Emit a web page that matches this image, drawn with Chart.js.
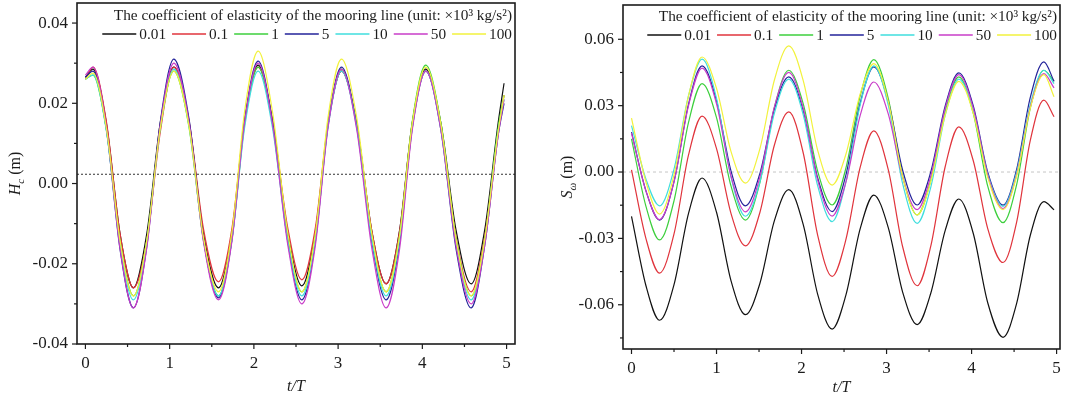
<!DOCTYPE html>
<html>
<head>
<meta charset="utf-8">
<script src="https://cdn.jsdelivr.net/npm/chart.js@4.4.1/dist/chart.umd.min.js"></script>
<style>
  html, body { margin: 0; padding: 0; background: #fff; }
  #wrap { position: relative; width: 1089px; height: 401px; overflow: hidden; }
  canvas { position: absolute; top: 0; }
  #hc { left: 0; }
  #sw { left: 545px; }
</style>
</head>
<body>
<div id="wrap">
  <canvas id="hc" width="545" height="401"></canvas>
  <canvas id="sw" width="544" height="401"></canvas>
</div>
<script>
// mooring line stiffness, x10^3 kg/s^2
const stiffness = ['0.01', '0.1', '1', '5', '10', '50', '100'];
const lineColors = ['#111111', '#e0343c', '#3ccf3c', '#23239a', '#3fdede', '#c93dc9', '#f2f23c'];
const legendTitle = 'The coefficient of elasticity of the mooring line (unit: \u00d710\u00b3 kg/s\u00b2)';

const tTicks = [0, 1, 2, 3, 4, 5];
const tMinor = [0.5, 1.5, 2.5, 3.5, 4.5];

// left panel: H_c (m)
const hcTime = [0, 0.09, 0.25, 0.41, 0.57, 0.73, 0.89, 1.05, 1.23, 1.40, 1.58, 1.74, 1.89, 2.05, 2.22, 2.40,
  2.57, 2.73, 2.88, 3.04, 3.22, 3.40, 3.57, 3.73, 3.88, 4.04, 4.22, 4.40, 4.58, 4.74, 4.90, 4.97];
const hc001 = [0.0265, 0.0285, 0.0149, -0.0124, -0.026, -0.0123, 0.0153, 0.029, 0.0153, -0.0123, -0.026, -0.0121, 0.0156, 0.0295, 0.0158, -0.0118,
  -0.0255, -0.0121, 0.0146, 0.028, 0.0148, -0.0118, -0.025, -0.0116, 0.0151, 0.0285, 0.0151, -0.0116, -0.025, -0.0116, 0.0151, 0.025];
const hc01 = [0.026, 0.029, 0.0153, -0.0123, -0.026, -0.014, 0.013, 0.029, 0.0156, -0.0111, -0.0245, -0.0111, 0.0156, 0.029, 0.0158, -0.0108,
  -0.024, -0.011, 0.015, 0.028, 0.0148, -0.0118, -0.025, -0.0118, 0.0148, 0.028, 0.0143, -0.0133, -0.027, -0.0133, 0.013, 0.022];
const hc1 = [0.026, 0.027, 0.0133, -0.0143, -0.028, -0.014, 0.014, 0.028, 0.014, -0.014, -0.028, -0.0138, 0.0148, 0.029, 0.015, -0.013,
  -0.027, -0.0131, 0.0146, 0.0285, 0.0146, -0.0131, -0.027, -0.0129, 0.0154, 0.0295, 0.0151, -0.0136, -0.028, -0.014, 0.014, 0.022];
const hc5 = [0.0265, 0.028, 0.0133, -0.0163, -0.031, -0.0155, 0.0155, 0.031, 0.0161, -0.0136, -0.0285, -0.0138, 0.0158, 0.0305, 0.0156, -0.0141,
  -0.029, -0.0145, 0.0145, 0.029, 0.0145, -0.0145, -0.029, -0.0148, 0.0138, 0.028, 0.0133, -0.0163, -0.031, -0.0155, 0.012, 0.020];
const hc10 = [0.026, 0.027, 0.013, -0.015, -0.029, -0.0146, 0.0141, 0.0285, 0.0144, -0.0139, -0.028, -0.014, 0.014, 0.028, 0.014, -0.014,
  -0.028, -0.014, 0.014, 0.028, 0.014, -0.014, -0.028, -0.014, 0.014, 0.028, 0.0138, -0.0148, -0.029, -0.0148, 0.013, 0.021];
const hc50 = [0.027, 0.029, 0.014, -0.016, -0.031, -0.0158, 0.0148, 0.030, 0.0153, -0.0143, -0.029, -0.0143, 0.0153, 0.030, 0.015, -0.015,
  -0.030, -0.0154, 0.0139, 0.0285, 0.0136, -0.0161, -0.031, -0.0163, 0.0133, 0.028, 0.0135, -0.0155, -0.030, -0.0155, 0.012, 0.021];
const hc100 = [0.026, 0.0275, 0.0136, -0.0141, -0.028, -0.014, 0.014, 0.028, 0.0143, -0.0133, -0.027, -0.012, 0.018, 0.033, 0.018, -0.012,
  -0.027, -0.0125, 0.0165, 0.031, 0.0165, -0.0125, -0.027, -0.013, 0.015, 0.029, 0.0148, -0.0138, -0.028, -0.014, 0.013, 0.022];
const hcLevel = 0.0023;   // dotted reference line
const hcTicks = [-0.04, -0.02, 0, 0.02, 0.04];
const hcMinor = [-0.03, -0.01, 0.01, 0.03];

// right panel: S_w (m)
const swTime = [0, 0.17, 0.33, 0.50, 0.67, 0.83, 1.00, 1.17, 1.34, 1.51, 1.68, 1.85, 2.02, 2.19, 2.36, 2.52,
  2.69, 2.85, 3.02, 3.19, 3.36, 3.52, 3.69, 3.85, 4.02, 4.19, 4.37, 4.53, 4.69, 4.85, 4.97];
const sw001 = [-0.020, -0.0514, -0.067, -0.0509, -0.0188, -0.0027, -0.0182, -0.0491, -0.0645, -0.0504, -0.0221, -0.008, -0.0238, -0.0553, -0.071, -0.0559,
  -0.0256, -0.0104, -0.0251, -0.0544, -0.069, -0.0548, -0.0264, -0.0122, -0.0278, -0.0591, -0.0747, -0.0594, -0.0287, -0.0134, -0.0171];
const sw01 = [0.001, -0.0301, -0.0457, -0.0280, 0.0076, 0.0253, 0.0106, -0.0187, -0.0334, -0.0183, 0.0121, 0.0272, 0.0086, -0.0286, -0.0472, -0.0308,
  0.0022, 0.0186, 0.0011, -0.0339, -0.0514, -0.0335, 0.0025, 0.0204, 0.0051, -0.0256, -0.0409, -0.0226, 0.0142, 0.0325, 0.025];
const sw1 = [0.015, -0.0155, -0.0307, -0.0130, 0.0223, 0.040, 0.0246, -0.0063, -0.0217, -0.0048, 0.0291, 0.046, 0.0308, 0.0003, -0.0149, 0.0015,
  0.0344, 0.0508, 0.0333, -0.0019, -0.0194, -0.0038, 0.0274, 0.043, 0.0265, -0.0064, -0.0229, -0.0057, 0.0288, 0.046, 0.041];
const sw5 = [0.018, -0.0085, -0.0217, -0.0043, 0.0306, 0.048, 0.0322, 0.0005, -0.0153, -0.0007, 0.0284, 0.043, 0.0278, -0.0027, -0.0179, -0.0016,
  0.0312, 0.0475, 0.0319, 0.0007, -0.0149, 0.0000, 0.0299, 0.0448, 0.0299, -0.0001, -0.015, 0.0012, 0.0336, 0.0498, 0.041];
const sw10 = [0.021, -0.0032, -0.0153, 0.0013, 0.0344, 0.051, 0.0333, -0.0023, -0.020, -0.0045, 0.0265, 0.042, 0.0259, -0.0063, -0.0224, -0.0048,
  0.0304, 0.048, 0.0302, -0.0054, -0.0232, -0.0069, 0.0257, 0.042, 0.0276, -0.0011, -0.0155, -0.0001, 0.0306, 0.046, 0.040];
const sw50 = [0.0176, -0.0085, -0.0215, -0.0044, 0.0299, 0.047, 0.0308, -0.0018, -0.018, -0.0023, 0.0293, 0.045, 0.0288, -0.0037, -0.0199, -0.0048,
  0.0256, 0.0407, 0.0263, -0.0026, -0.017, -0.0018, 0.0288, 0.044, 0.0289, -0.0014, -0.0165, -0.0013, 0.0293, 0.0445, 0.038];
const sw100 = [0.0244, -0.0045, -0.019, -0.0013, 0.0343, 0.052, 0.0378, 0.0093, -0.005, 0.0105, 0.0415, 0.057, 0.0413, 0.0098, -0.0059, 0.0078,
  0.0353, 0.049, 0.0319, -0.0023, -0.0194, -0.0043, 0.0259, 0.041, 0.0265, -0.0025, -0.017, -0.0018, 0.0288, 0.044, 0.034];
const swLevel = 0;        // dashed zero line
const swTicks = [-0.06, -0.03, 0, 0.03, 0.06];
const swMinor = [-0.075, -0.045, -0.015, 0.015, 0.045];

const serif = '"Liberation Serif", "Times New Roman", serif';
const ink = '#1c1c1c';

function series(time, vals, i) {
  return {
    label: stiffness[i],
    data: time.map((t, k) => ({ x: t, y: vals[k] })),
    borderColor: lineColors[i],
    borderWidth: 1.2,
    pointRadius: 0,
    fill: false,
    cubicInterpolationMode: 'monotone',
    order: 10 - i
  };
}

function seg(ctx, x1, y1, x2, y2) {
  ctx.beginPath(); ctx.moveTo(x1, y1); ctx.lineTo(x2, y2); ctx.stroke();
}

const panel = {
  id: 'panel',
  beforeDatasetsDraw(chart, args, o) {
    const { ctx, chartArea: a, scales: { y } } = chart;
    const py = y.getPixelForValue(o.level);
    ctx.save();
    ctx.strokeStyle = o.levelColor; ctx.lineWidth = 1.2; ctx.setLineDash(o.levelDash);
    seg(ctx, a.left, py, a.right, py);
    ctx.restore();
  },
  afterDraw(chart, args, o) {
    const { ctx, chartArea: a, scales: { x, y } } = chart;
    ctx.save();
    ctx.strokeStyle = ink; ctx.lineWidth = 1.6;
    ctx.strokeRect(a.left, a.top, a.right - a.left, a.bottom - a.top);
    ctx.lineWidth = 1.2;
    tTicks.forEach(v => { const p = x.getPixelForValue(v); seg(ctx, p, a.bottom, p, a.bottom + 5); });
    tMinor.forEach(v => { const p = x.getPixelForValue(v); seg(ctx, p, a.bottom, p, a.bottom + 3); });
    o.yMajor.forEach(v => { const p = y.getPixelForValue(v); seg(ctx, a.left - 5, p, a.left, p); });
    o.yMinor.forEach(v => { const p = y.getPixelForValue(v); seg(ctx, a.left - 3, p, a.left, p); });

    // legend inside the frame, right aligned
    ctx.fillStyle = ink;
    ctx.textBaseline = 'middle';
    ctx.font = '15.3px ' + serif;
    ctx.textAlign = 'right';
    ctx.fillText(legendTitle, a.right - 3, o.titleY);
    ctx.textAlign = 'left';
    const sets = chart.data.datasets;
    const L = 34, g1 = 3, g2 = 6;
    const w = sets.map(d => ctx.measureText(d.label).width);
    let total = g2 * (sets.length - 1);
    w.forEach(v => { total += L + g1 + v; });
    let px = a.right - 3 - total;
    ctx.lineWidth = 1.4;
    sets.forEach((d, i) => {
      ctx.strokeStyle = d.borderColor;
      seg(ctx, px, o.rowY, px + L, o.rowY);
      px += L + g1;
      ctx.fillText(d.label, px, o.rowY + 1);
      px += w[i] + g2;
    });

    // y-axis title with subscript
    ctx.translate(o.yTitleX, (a.top + a.bottom) / 2);
    ctx.rotate(-Math.PI / 2);
    ctx.textBaseline = 'alphabetic';
    const fMain = 'italic 16px ' + serif, fSub = 'italic 11px ' + serif, fUnit = '16px ' + serif;
    ctx.font = fMain; const w1 = ctx.measureText(o.yVar).width;
    ctx.font = fSub; const w2 = ctx.measureText(o.ySub).width;
    ctx.font = fUnit; const w3 = ctx.measureText(' (m)').width;
    let tx = -(w1 + w2 + w3) / 2;
    ctx.font = fMain; ctx.fillText(o.yVar, tx, 0); tx += w1;
    ctx.font = fSub; ctx.fillText(o.ySub, tx, 4); tx += w2;
    ctx.font = fUnit; ctx.fillText(' (m)', tx, 0);
    ctx.restore();
  }
};

function makeChart(id, datasets, cfg) {
  return new Chart(document.getElementById(id), {
    type: 'line',
    data: { datasets },
    options: {
      responsive: false,
      animation: false,
      events: [],
      layout: { padding: { top: cfg.padTop, right: cfg.padRight, left: 0, bottom: 0 } },
      plugins: { legend: { display: false }, tooltip: { enabled: false }, panel: cfg },
      scales: {
        x: {
          type: 'linear', min: cfg.xMin, max: cfg.xMax,
          afterBuildTicks: s => { s.ticks = tTicks.map(v => ({ value: v })); },
          afterFit: s => { s.height = cfg.xHeight; s.paddingLeft = 0; s.paddingRight = 0; },
          grid: { display: false, drawTicks: false },
          border: { display: false },
          ticks: { padding: 9, color: ink, font: { family: serif, size: 17 }, callback: v => String(v) },
          title: { display: true, text: 't/T', color: ink, font: { family: serif, size: 16, style: 'italic' }, padding: { top: 0, bottom: cfg.titlePad } }
        },
        y: {
          type: 'linear', min: cfg.yMin, max: cfg.yMax,
          afterBuildTicks: s => { s.ticks = cfg.yMajor.map(v => ({ value: v })); },
          afterFit: s => { s.width = cfg.yWidth; s.paddingTop = 0; s.paddingBottom = 0; },
          grid: { display: false, drawTicks: false },
          border: { display: false },
          ticks: { padding: 9, color: ink, font: { family: serif, size: 17 }, callback: v => v.toFixed(2) }
        }
      }
    },
    plugins: [panel]
  });
}

const hcSets = [hc001, hc01, hc1, hc5, hc10, hc50, hc100].map((v, i) => series(hcTime, v, i));
const swSets = [sw001, sw01, sw1, sw5, sw10, sw50, sw100].map((v, i) => series(swTime, v, i));

makeChart('hc', hcSets, {
  xMin: -0.1, xMax: 5.1, yMin: -0.04, yMax: 0.045,
  padTop: 3, padRight: 30, yWidth: 77, xHeight: 57, titlePad: 5,
  yMajor: hcTicks, yMinor: hcMinor,
  level: hcLevel, levelColor: '#555555', levelDash: [2, 2],
  titleY: 16, rowY: 34, yTitleX: 20, yVar: 'H', ySub: 'c'
});

makeChart('sw', swSets, {
  xMin: -0.1, xMax: 5.04, yMin: -0.08, yMax: 0.0755,
  padTop: 5, padRight: 29, yWidth: 78, xHeight: 52, titlePad: 4,
  yMajor: swTicks, yMinor: swMinor,
  level: swLevel, levelColor: '#cfcfcf', levelDash: [3, 3],
  titleY: 17, rowY: 35, yTitleX: 27, yVar: 'S', ySub: '\u03c9'
});
</script>
</body>
</html>
